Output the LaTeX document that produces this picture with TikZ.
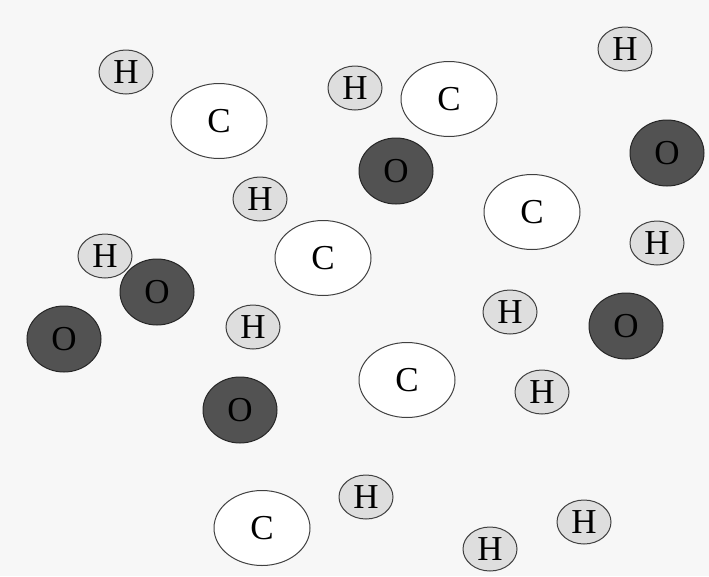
\documentclass[tikz,border=0pt]{standalone}
\usepackage{fontspec}
\setmainfont{Liberation Serif}
\usetikzlibrary{shapes.geometric}
\begin{document}
\begin{tikzpicture}[x=1pt,y=-1pt,
  atom/.style={ellipse, draw=black!75, line width=1pt, inner sep=0pt, font=\fontsize{35}{35}\selectfont},
  hyd/.style={atom, fill=black!13, minimum width=54pt, minimum height=44pt},
  carb/.style={atom, fill=white, minimum width=96pt, minimum height=75pt},
  oxy/.style={atom, fill=black!68, draw=black!85, minimum width=74pt, minimum height=66pt, text=black}]
\fill[black!3] (0,0) rectangle (709,576);
\useasboundingbox (0,0) rectangle (709,576);
% hydrogens
\node[hyd] (h1) at (126,72) {H};
\node[hyd] (h2) at (355,88) {H};
\node[hyd] (h3) at (625,49) {H};
\node[hyd] (h4) at (260,199) {H};
\node[hyd] (h5) at (657,243) {H};
\node[hyd] (h6) at (105,256) {H};
\node[hyd] (h7) at (253,327) {H};
\node[hyd] (h8) at (510,312) {H};
\node[hyd] (h9) at (542,392) {H};
\node[hyd] (h10) at (366,497) {H};
\node[hyd] (h11) at (584,522) {H};
\node[hyd] (h12) at (490,549) {H};
% carbons
\node[carb] (c1) at (219,121) {C};
\node[carb] (c2) at (449,99) {C};
\node[carb] (c3) at (532,212) {C};
\node[carb] (c4) at (323,258) {C};
\node[carb] (c5) at (407,380) {C};
\node[carb] (c6) at (262,528) {C};
% oxygens
\node[oxy] (o1) at (396,171) {O};
\node[oxy] (o2) at (667,153) {O};
\node[oxy] (o3) at (157,292) {O};
\node[oxy] (o4) at (64,339) {O};
\node[oxy] (o5) at (626,326) {O};
\node[oxy] (o6) at (240,410) {O};
\end{tikzpicture}
\end{document}
